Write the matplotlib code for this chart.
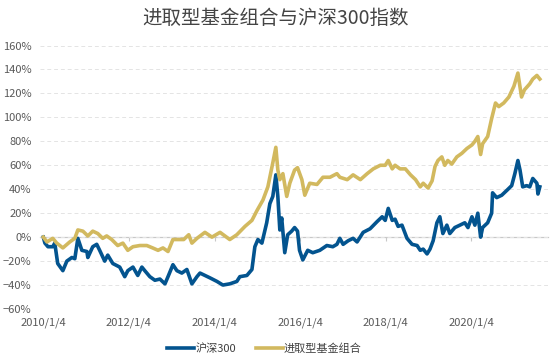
import pandas as pd
import matplotlib
matplotlib.use('Agg')
import matplotlib.pyplot as plt
from matplotlib.ticker import FuncFormatter

plt.rcParams['font.family'] = ['Noto Sans CJK SC', 'DejaVu Sans']

# 沪深300 累计收益 (%)
hs300_dates = ['2010-01-04', '2010-01-18', '2010-02-13', '2010-03-26', '2010-04-12', '2010-05-07',
               '2010-06-20', '2010-07-24', '2010-09-05', '2010-09-30', '2010-10-26', '2010-11-29',
               '2011-01-11', '2011-01-19', '2011-03-02', '2011-04-05', '2011-04-30', '2011-06-12',
               '2011-07-08', '2011-08-20', '2011-10-18', '2011-11-30', '2011-12-26', '2012-02-08',
               '2012-03-20', '2012-04-24', '2012-05-19', '2012-07-01', '2012-08-13', '2012-09-25',
               '2012-11-07', '2012-12-03', '2013-01-14', '2013-02-17', '2013-03-31', '2013-05-13',
               '2013-06-25', '2013-08-07', '2013-09-02', '2013-11-26', '2014-01-25', '2014-03-16',
               '2014-05-14', '2014-07-13', '2014-08-08', '2014-10-07', '2014-11-19', '2014-12-14',
               '2015-01-09', '2015-02-12', '2015-03-25', '2015-04-21', '2015-05-16', '2015-06-11',
               '2015-06-28', '2015-07-15', '2015-07-31', '2015-08-26', '2015-09-20', '2015-10-24',
               '2015-11-18', '2015-12-13', '2015-12-30', '2016-01-27', '2016-03-09', '2016-04-21',
               '2016-06-20', '2016-08-19', '2016-10-09', '2016-11-13', '2016-12-08', '2017-01-05',
               '2017-02-17', '2017-03-31', '2017-05-04', '2017-06-25', '2017-08-23', '2017-10-22',
               '2017-12-04', '2017-12-30', '2018-01-25', '2018-02-28', '2018-03-24', '2018-04-19',
               '2018-05-22', '2018-07-04', '2018-08-16', '2018-09-28', '2018-10-25', '2018-11-19',
               '2018-12-22', '2019-01-16', '2019-02-12', '2019-03-16', '2019-04-10', '2019-05-06',
               '2019-06-09', '2019-07-04', '2019-08-16', '2019-09-28', '2019-11-09', '2019-12-06',
               '2020-01-09', '2020-02-03', '2020-02-28', '2020-03-23', '2020-04-09', '2020-05-22',
               '2020-06-25', '2020-07-03', '2020-08-07', '2020-09-19', '2020-11-01', '2020-12-13',
               '2021-01-09', '2021-02-04', '2021-02-22', '2021-03-17', '2021-04-20', '2021-05-16',
               '2021-06-11', '2021-07-16', '2021-07-25', '2021-08-10']
hs300_vals = [0, -5, -8, -8, -5, -22, -28, -20, -17, -18, -1, -11,
              -12, -17, -8, -6, -11, -20, -15, -22, -25, -33, -28, -25,
              -32, -25, -28, -33, -36, -35, -39, -33, -23, -28, -30, -27,
              -39, -33, -30, -34, -37, -40, -39, -37, -33, -32, -27, -8,
              -2, -5, 12, 28, 34, 52, 34, 6, 16, -13, 2, 5,
              8, 5, -11, -19, -11, -13, -11, -7, -8, -6, -1, -6,
              -3, -1, -4, 4, 7, 13, 17, 14, 24, 14, 15, 9,
              10, -1, -6, -7, -11, -10, -14, -10, -3, 12, 17, 3,
              10, 3, 8, 10, 12, 8, 17, 10, 20, 0, 8, 12,
              20, 37, 33, 35, 39, 43, 53, 64, 56, 42, 43, 42,
              49, 45, 36, 42]

# 进取型基金组合 累计收益 (%)
fund_dates = ['2010-01-04', '2010-02-05', '2010-03-26', '2010-04-29', '2010-06-20', '2010-08-18',
              '2010-09-30', '2010-10-26', '2010-12-08', '2011-01-19', '2011-03-02', '2011-04-14',
              '2011-05-26', '2011-06-29', '2011-08-11', '2011-10-01', '2011-11-14', '2011-12-26',
              '2012-02-08', '2012-04-07', '2012-06-05', '2012-07-25', '2012-09-09', '2012-10-21',
              '2012-12-03', '2013-01-14', '2013-03-04', '2013-04-16', '2013-05-29', '2013-06-25',
              '2013-08-07', '2013-10-14', '2013-12-13', '2014-02-20', '2014-05-14', '2014-07-13',
              '2014-09-21', '2014-11-19', '2014-12-31', '2015-02-21', '2015-04-04', '2015-05-16',
              '2015-06-11', '2015-06-28', '2015-07-15', '2015-08-10', '2015-09-12', '2015-10-08',
              '2015-11-18', '2015-12-13', '2016-01-19', '2016-02-13', '2016-03-26', '2016-05-27',
              '2016-07-17', '2016-09-15', '2016-11-13', '2016-12-08', '2017-02-09', '2017-03-31',
              '2017-06-01', '2017-07-29', '2017-09-19', '2017-11-18', '2017-12-30', '2018-01-25',
              '2018-02-28', '2018-03-24', '2018-05-06', '2018-06-20', '2018-08-03', '2018-09-15',
              '2018-10-25', '2018-11-19', '2018-12-31', '2019-02-03', '2019-02-28', '2019-03-25',
              '2019-04-27', '2019-05-22', '2019-06-17', '2019-07-21', '2019-09-02', '2019-10-15',
              '2019-11-27', '2020-01-09', '2020-02-03', '2020-02-28', '2020-03-23', '2020-04-09',
              '2020-05-22', '2020-06-25', '2020-07-28', '2020-08-25', '2020-10-06', '2020-11-19',
              '2021-01-01', '2021-02-04', '2021-03-07', '2021-04-01', '2021-05-16', '2021-06-11',
              '2021-07-16', '2021-08-10']
fund_vals = [0, -4, -1, -5, -9, -4, -1, 6, 5, 1, 5, 3,
             -1, 1, -2, -7, -5, -11, -8, -7, -7, -9, -11, -9,
             -12, -2, -2, -2, 2, -5, -1, 4, 0, 4, -2, 2,
             9, 14, 22, 31, 42, 62, 75, 56, 48, 53, 34, 45,
             56, 58, 48, 35, 45, 44, 50, 50, 53, 50, 48, 52,
             48, 53, 57, 60, 60, 64, 57, 60, 57, 57, 52, 48,
             42, 45, 41, 47, 59, 64, 67, 60, 64, 61, 67, 70,
             74, 77, 80, 84, 69, 78, 84, 99, 112, 109, 112, 117,
             126, 137, 117, 123, 128, 132, 135, 132]

tick_dates = ['2010-01-04', '2012-01-04', '2014-01-04', '2016-01-04', '2018-01-04', '2020-01-04']
tick_labels = ['2010/1/4', '2012/1/4', '2014/1/4', '2016/1/4', '2018/1/4', '2020/1/4']

blue = '#03548F'
gold = '#D2B95F'

fig = plt.figure(figsize=(5.51, 3.62), dpi=100)
ax = fig.add_axes([0.0726, 0.1464, 0.922, 0.7279])

ax.plot(pd.to_datetime(hs300_dates), hs300_vals, color=blue, lw=2.6, label='沪深300', zorder=3)
ax.plot(pd.to_datetime(fund_dates), fund_vals, color=gold, lw=2.6, label='进取型基金组合', zorder=3)

ax.set_ylim(-60, 160)
ax.set_yticks(range(-60, 161, 20))
ax.yaxis.set_major_formatter(FuncFormatter(lambda v, p: '{:d}%'.format(int(v)).replace('-', '−')))
ax.set_xlim(pd.Timestamp('2009-12-07'), pd.Timestamp('2021-10-19'))
ax.set_xticks(pd.to_datetime(tick_dates))
ax.set_xticklabels(tick_labels)

ax.grid(axis='y', color='#E4E4E4', linestyle=(0, (4, 3)), lw=0.7)
for s in ax.spines.values():
    s.set_visible(False)
ax.tick_params(axis='both', length=0, colors='#595959', labelsize=8)
ax.tick_params(axis='y', pad=6)
ax.tick_params(axis='x', pad=6)

# zero line with small tick marks
zero = ax.secondary_xaxis(60 / 220)
zero.set_xticks(pd.to_datetime(tick_dates))
zero.set_xticklabels([])
zero.spines['bottom'].set_color('#C8C8C8')
zero.spines['bottom'].set_linewidth(0.9)
zero.tick_params(axis='x', length=3, color='#C8C8C8', direction='out')

fig.text(0.5, 0.95, '进取型基金组合与沪深300指数', ha='center', va='center', fontsize=14, color='#444444')
fig.legend(loc='center', bbox_to_anchor=(0.48, 0.038), ncol=2, frameon=False, fontsize=8,
           handlelength=2.4, handletextpad=0.1, columnspacing=1.8, labelcolor='#404040')

fig.savefig('out.png', dpi=100)
